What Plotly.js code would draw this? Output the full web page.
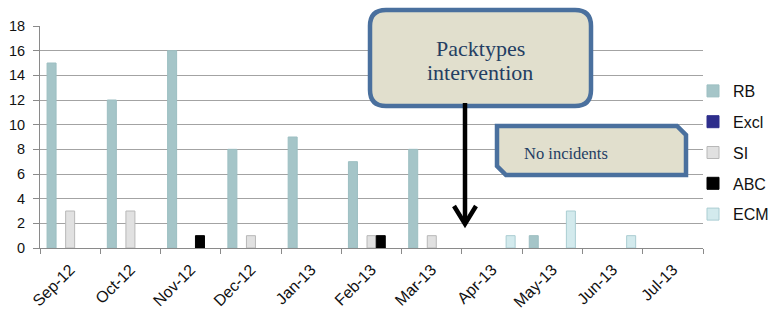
<!DOCTYPE html>
<html>
<head>
<meta charset="utf-8">
<script src="https://cdn.plot.ly/plotly-3.0.1.min.js"></script>
<style>
  html, body { margin: 0; padding: 0; background: #ffffff; }
  #chart { width: 769px; height: 311px; }
</style>
</head>
<body>
<div id="chart"></div>
<script>
// ---- data ----
const months = ["Sep-12", "Oct-12", "Nov-12", "Dec-12", "Jan-13", "Feb-13", "Mar-13", "Apr-13", "May-13", "Jun-13", "Jul-13"];
const rbValues   = [15, 12, 16, 8, 9, 7, 8, null, 1, null, null];
const exclValues = [null, null, null, null, null, null, null, null, null, null, null];
const siValues   = [3, 3, null, 1, null, 1, 1, null, null, null, null];
const abcValues  = [null, null, 1, null, null, 1, null, null, null, null, null];
const ecmValues  = [null, null, null, null, null, null, null, 1, 3, 1, null];
const seriesNames = ["RB", "Excl", "SI", "ABC", "ECM"];
const calloutMain = ["Packtypes", "intervention"];
const calloutSub = "No incidents";

// ---- layout geometry (pixels) ----
const W = 769, H = 311;
const M = { l: 40, r: 66, t: 26, b: 63, autoexpand: false };
const PW = W - M.l - M.r, PH = H - M.t - M.b;
const px = x => (x - M.l) / PW;
const py = y => (H - M.b - y) / PH;

const styles = [
  { color: "#a5c5c8", line: "#9dbfc2" },
  { color: "#2e2e8c", line: "#2e2e8c" },
  { color: "#e1e1e1", line: "#b8b8b8" },
  { color: "#000000", line: "#000000" },
  { color: "#d3eaed", line: "#aacdd2" }
];
const allValues = [rbValues, exclValues, siValues, abcValues, ecmValues];

const traces = seriesNames.map((name, i) => ({
  type: "bar",
  name: name,
  x: months,
  y: allValues[i],
  legendgroup: name,
  marker: { color: styles[i].color, line: { color: styles[i].line, width: 1 } },
  hoverinfo: "x+y+name"
}));

function roundRect(x0, y0, x1, y1, r) {
  const P = (x, y) => px(x) + "," + py(y);
  return "M" + P(x0 + r, y0) +
    " L" + P(x1 - r, y0) + " Q" + P(x1, y0) + " " + P(x1, y0 + r) +
    " L" + P(x1, y1 - r) + " Q" + P(x1, y1) + " " + P(x1 - r, y1) +
    " L" + P(x0 + r, y1) + " Q" + P(x0, y1) + " " + P(x0, y1 - r) +
    " L" + P(x0, y0 + r) + " Q" + P(x0, y0) + " " + P(x0 + r, y0) + " Z";
}
function snipRect(x0, y0, x1, y1, c) {
  const P = (x, y) => px(x) + "," + py(y);
  return "M" + P(x0, y0) + " L" + P(x1 - c, y0) + " L" + P(x1, y0 + c) +
    " L" + P(x1, y1) + " L" + P(x0 + c, y1) + " L" + P(x0, y1 - c) + " Z";
}
function polyline(pts) {
  return pts.map((p, k) => (k ? "L" : "M") + px(p[0]) + "," + py(p[1])).join(" ");
}

const boxFill = "#e1dfcd", boxLine = "#4a709e", boxText = "#243e63";

const shapes = [
  { type: "path", xref: "paper", yref: "paper", path: roundRect(370, 10, 591, 106, 16),
    fillcolor: boxFill, line: { color: boxLine, width: 4.5 } },
  { type: "path", xref: "paper", yref: "paper", path: polyline([[465, 103], [465, 224]]),
    line: { color: "#000000", width: 4.5 } },
  { type: "path", xref: "paper", yref: "paper", path: polyline([[454, 206], [465, 224], [476, 206]]),
    line: { color: "#000000", width: 4.5 } },
  { type: "path", xref: "paper", yref: "paper", path: snipRect(497, 126, 686, 175, 9),
    fillcolor: boxFill, line: { color: boxLine, width: 4.5 } }
];

const serif = "Liberation Serif, Times New Roman, serif";
const annotations = [
  { xref: "paper", yref: "paper", x: px(480), y: py(48), text: calloutMain[0], showarrow: false,
    font: { family: serif, size: 22, color: boxText }, xanchor: "center", yanchor: "middle" },
  { xref: "paper", yref: "paper", x: px(480), y: py(73), text: calloutMain[1], showarrow: false,
    font: { family: serif, size: 22, color: boxText }, xanchor: "center", yanchor: "middle" },
  { xref: "paper", yref: "paper", x: px(522), y: py(153), text: calloutSub, showarrow: false,
    font: { family: serif, size: 16.5, color: boxText }, xanchor: "left", yanchor: "middle" }
];

const sans = "Liberation Sans, Arial, sans-serif";
const layout = {
  width: W, height: H,
  margin: M,
  paper_bgcolor: "#ffffff",
  plot_bgcolor: "#ffffff",
  barmode: "group",
  bargap: 0.23,
  bargroupgap: 0.03,
  font: { family: sans, size: 14, color: "#111111" },
  xaxis: {
    type: "category",
    tickangle: -45,
    tickson: "boundaries",
    ticks: "outside", ticklen: 5, tickcolor: "#8a8a8a",
    showline: true, linecolor: "#8a8a8a", linewidth: 1,
    showgrid: false,
    automargin: false,
    ticklabelstandoff: 5,
    tickfont: { family: sans, size: 16, color: "#111111" }
  },
  yaxis: {
    range: [0, 18], dtick: 2,
    ticks: "outside", ticklen: 6, tickcolor: "#8a8a8a",
    showline: true, linecolor: "#8a8a8a", linewidth: 1,
    showgrid: true, gridcolor: "#a3a3a3", gridwidth: 1,
    zeroline: false,
    automargin: false,
    ticklabelstandoff: 5,
    tickfont: { family: sans, size: 14.5, color: "#111111" }
  },
  legend: {
    x: px(693), y: py(74), xanchor: "left", yanchor: "top",
    traceorder: "grouped",
    tracegroupgap: 7,
    itemwidth: 30,
    font: { family: sans, size: 16, color: "#111111" },
    bgcolor: "rgba(0,0,0,0)"
  },
  shapes: shapes,
  annotations: annotations,
  showlegend: true
};

Plotly.newPlot("chart", traces, layout, { displayModeBar: false, staticPlot: true });
</script>
</body>
</html>
